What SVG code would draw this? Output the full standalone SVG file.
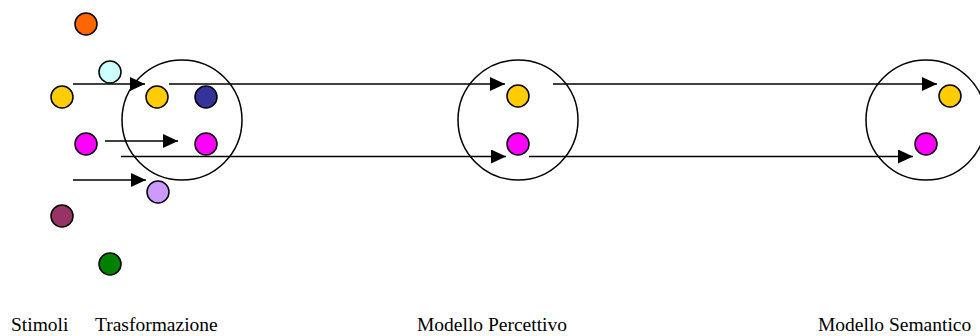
<svg xmlns="http://www.w3.org/2000/svg" width="980" height="336" viewBox="0 0 980 336">
<style>
.dot{stroke:#000;stroke-width:1.5}
.ring{fill:none;stroke:#000;stroke-width:1.5}
.conn{stroke:#000;stroke-width:1.5;fill:none}
.lbl{font-family:"Liberation Serif","Times New Roman",serif;font-size:19.5px;fill:#000}
</style>
<defs>
<marker id="ah" markerUnits="userSpaceOnUse" markerWidth="16" markerHeight="15" refX="15" refY="7" orient="auto">
<path d="M0,0 L15,7 L0,14 z" fill="#000"/>
</marker>
</defs>
<rect width="980" height="336" fill="#fff"/>
<g id="ring-trasformazione"><circle class="ring" cx="182" cy="120" r="60"/></g>
<g id="ring-percettivo"><circle class="ring" cx="518" cy="120" r="60"/></g>
<g id="ring-semantico"><circle class="ring" cx="926" cy="120" r="60"/></g>
<g id="connectors">
<line class="conn" x1="73" y1="84" x2="145" y2="84" marker-end="url(#ah)"/>
<line class="conn" x1="105" y1="141" x2="178" y2="141" marker-end="url(#ah)"/>
<line class="conn" x1="73" y1="180" x2="146" y2="180" marker-end="url(#ah)"/>
<line class="conn" x1="169" y1="84" x2="505" y2="84" marker-end="url(#ah)"/>
<line class="conn" x1="121" y1="156.5" x2="506" y2="156.5" marker-end="url(#ah)"/>
<line class="conn" x1="553" y1="84" x2="937" y2="84" marker-end="url(#ah)"/>
<line class="conn" x1="529" y1="156.5" x2="913" y2="156.5" marker-end="url(#ah)"/>
</g>
<g id="stim-orange"><circle class="dot" cx="86" cy="24" r="11" fill="#FF6600"/></g>
<g id="stim-cyan"><circle class="dot" cx="110" cy="72" r="11" fill="#CCFFFF"/></g>
<g id="stim-yellow"><circle class="dot" cx="62" cy="97" r="11" fill="#FFCC00"/></g>
<g id="stim-magenta"><circle class="dot" cx="86" cy="144" r="11" fill="#FF00FF"/></g>
<g id="stim-maroon"><circle class="dot" cx="62" cy="216" r="11" fill="#993366"/></g>
<g id="stim-green"><circle class="dot" cx="110" cy="264" r="11" fill="#008000"/></g>
<g id="tr-yellow"><circle class="dot" cx="157" cy="97" r="11" fill="#FFCC00"/></g>
<g id="tr-navy"><circle class="dot" cx="206" cy="97" r="11" fill="#333399"/></g>
<g id="tr-magenta"><circle class="dot" cx="206" cy="144" r="11" fill="#FF00FF"/></g>
<g id="tr-lilac"><circle class="dot" cx="158" cy="192" r="11" fill="#CC99FF"/></g>
<g id="pe-yellow"><circle class="dot" cx="518" cy="96" r="11" fill="#FFCC00"/></g>
<g id="pe-magenta"><circle class="dot" cx="518" cy="144" r="11" fill="#FF00FF"/></g>
<g id="se-yellow"><circle class="dot" cx="950" cy="96" r="11" fill="#FFCC00"/></g>
<g id="se-magenta"><circle class="dot" cx="926" cy="144" r="11" fill="#FF00FF"/></g>
<g id="labels">
<text class="lbl" x="11" y="331">Stimoli</text>
<text class="lbl" x="95" y="331">Trasformazione</text>
<text class="lbl" x="417" y="331">Modello Percettivo</text>
<text class="lbl" x="818" y="331">Modello Semantico</text>
</g>
</svg>
